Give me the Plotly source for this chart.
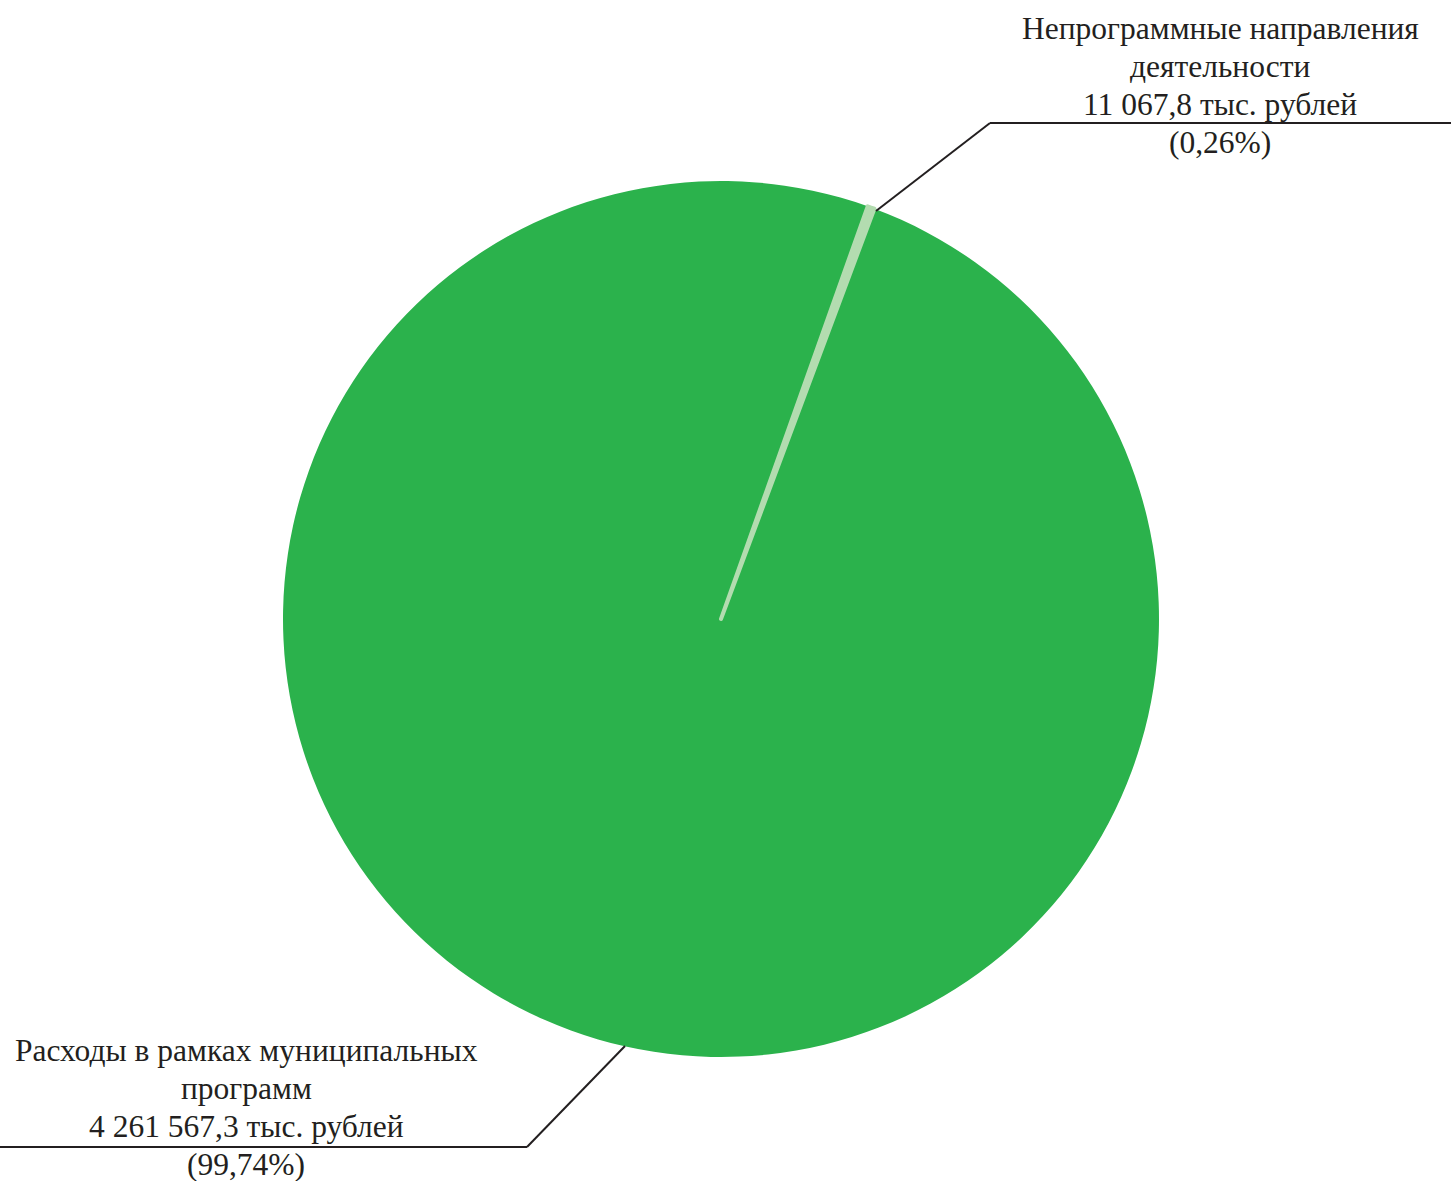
import plotly.graph_objects as go

W, H = 1451, 1181

labels = ["Расходы в рамках муниципальных программ", "Непрограммные направления деятельности"]
values = [4261567.3, 11067.8]
label_lines = [
    ["Расходы в рамках муниципальных", "программ"],
    ["Непрограммные направления", "деятельности"],
]
value_text = ["4 261 567,3 тыс. рублей", "11 067,8 тыс. рублей"]
pct_text = ["(99,74%)", "(0,26%)"]
colors = ["#2bb24c", "#b3dcb0"]


def px(x, y):
    return x / W, 1 - y / H


fig = go.Figure(
    go.Pie(
        labels=labels,
        values=values,
        sort=False,
        direction="clockwise",
        rotation=20.5,
        marker=dict(colors=colors, line=dict(color=colors, width=[0, 4])),
        textinfo="none",
        hoverinfo="label+value+percent",
        showlegend=False,
        domain=dict(x=[(721 - 438) / W, (721 + 438) / W], y=[(H - 1057) / H, (H - 181) / H]),
    )
)

font = dict(family="Liberation Serif", size=31.5, color="#231f20")

# label blocks: centre x and first-line y in pixels
blocks = [(246, 1050), (1220, 28)]
for i, (cx, y0) in enumerate(blocks):
    lines = label_lines[i] + [value_text[i], pct_text[i]]
    for k, t in enumerate(lines):
        x, y = px(cx, y0 + k * 38.3)
        fig.add_annotation(x=x, y=y, xref="paper", yref="paper", text=t, showarrow=False,
                           xanchor="center", yanchor="middle", font=font)

line = dict(color="#231f20", width=2)
for pts in [[(876, 211), (990, 123), (1451, 123)], [(625, 1046), (527, 1147), (0, 1147)]]:
    for (x0, y0), (x1, y1) in zip(pts[:-1], pts[1:]):
        a, b = px(x0, y0)
        c, d = px(x1, y1)
        fig.add_shape(type="line", xref="paper", yref="paper", x0=a, y0=b, x1=c, y1=d, line=line)

fig.update_layout(
    width=W, height=H,
    margin=dict(l=0, r=0, t=0, b=0),
    paper_bgcolor="white", plot_bgcolor="white",
)

fig.write_html("out.html", config={"displayModeBar": False},
               post_script="document.body.style.margin='0px';")
